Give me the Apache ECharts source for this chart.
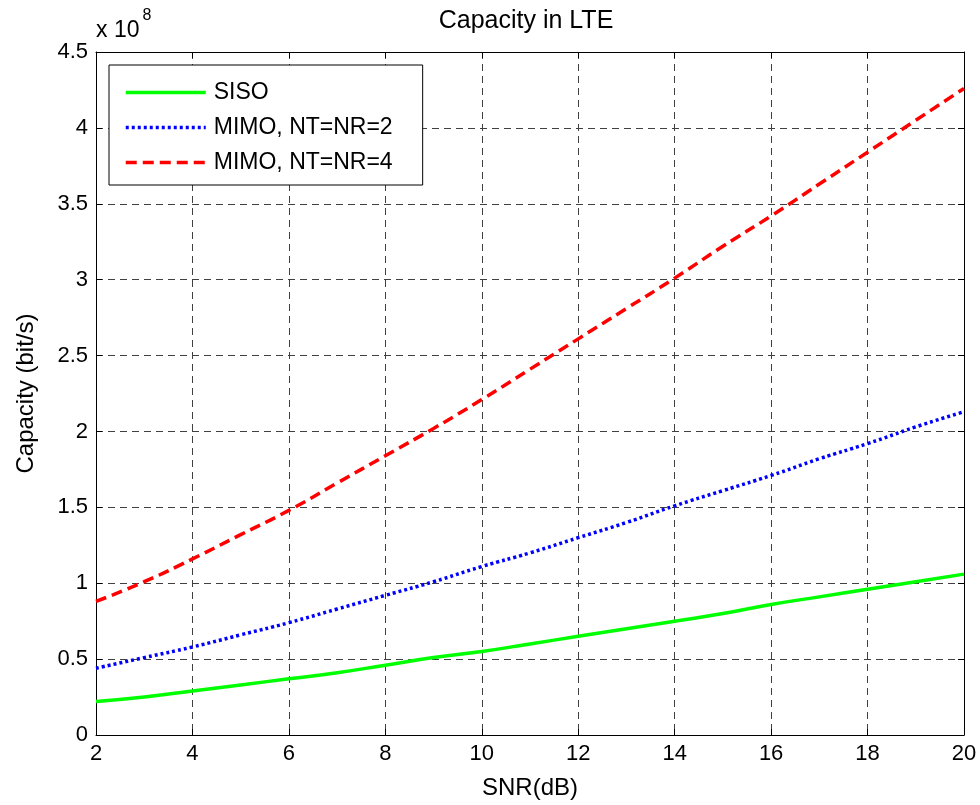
<!DOCTYPE html>
<html>
<head>
<meta charset="utf-8">
<title>Capacity in LTE</title>
<script src="https://cdn.jsdelivr.net/npm/echarts@6/dist/echarts.min.js"></script>
<style>
  html, body { margin: 0; padding: 0; background: #fff; }
  #chart { width: 980px; height: 805px; }
</style>
</head>
<body>
<div id="chart"></div>
<script>
// SNR in dB
const snrDb = [2, 3, 4, 5, 6, 7, 8, 9, 10, 11, 12, 13, 14, 15, 16, 17, 18, 19, 20];
// Capacity in units of 1e8 bit/s
const sisoCap = [0.22, 0.25, 0.29, 0.33, 0.37, 0.41, 0.46, 0.51, 0.55, 0.60, 0.65, 0.70, 0.75, 0.80, 0.86, 0.91, 0.96, 1.01, 1.06];
const mimo2Cap = [0.44, 0.51, 0.58, 0.66, 0.74, 0.83, 0.92, 1.01, 1.11, 1.20, 1.30, 1.40, 1.51, 1.61, 1.71, 1.82, 1.92, 2.03, 2.13];
const mimo4Cap = [0.88, 1.01, 1.16, 1.32, 1.48, 1.66, 1.84, 2.02, 2.21, 2.41, 2.61, 2.81, 3.01, 3.22, 3.42, 3.63, 3.84, 4.05, 4.26];
const yTicks = [0, 0.5, 1, 1.5, 2, 2.5, 3, 3.5, 4, 4.5];

const FONT = 'Liberation Sans, Arial, Helvetica, sans-serif';

const pairs = arr => snrDb.map((x, i) => [x, arr[i]]);

const gridLine = { show: true, lineStyle: { color: '#404040', width: 1, type: [7, 5] } };
const axisLine = { show: true, onZero: false, lineStyle: { color: '#000', width: 1 } };
const tick = { show: true, inside: true, length: 6, lineStyle: { color: '#000' } };

const chart = echarts.init(document.getElementById('chart'), null, { renderer: 'canvas' });

chart.setOption({
  backgroundColor: '#fff',
  animation: false,
  title: {
    text: 'Capacity in LTE',
    left: 521, top: 4, textAlign: 'center',
    textStyle: { fontFamily: FONT, fontSize: 25, fontWeight: 'normal', color: '#000' }
  },
  grid: { left: 96, top: 52, right: 16, bottom: 69, containLabel: false },
  legend: {
    orient: 'vertical',
    left: 109, top: 65,
    padding: [16, 30, 11, 15],
    itemGap: 12,
    itemWidth: 80,
    itemHeight: 20,
    borderColor: '#000', borderWidth: 1,
    backgroundColor: '#fff',
    z: 10,
    itemStyle: { opacity: 0 },
    lineStyle: { width: 3.5 },
    textStyle: { fontFamily: FONT, fontSize: 23, color: '#000', padding: [0, 0, 0, 3] },
    data: ['SISO', 'MIMO, NT=NR=2', 'MIMO, NT=NR=4']
  },
  xAxis: [{
    type: 'value', min: 2, max: 20, interval: 2,
    position: 'bottom',
    name: 'SNR(dB)', nameLocation: 'middle', nameGap: 41,
    nameTextStyle: { fontFamily: FONT, fontSize: 24, color: '#000' },
    axisLine, axisTick: tick,
    axisLabel: { fontFamily: FONT, fontSize: 22, color: '#000', margin: 8 },
    splitLine: gridLine
  }, {
    type: 'value', min: 2, max: 20, interval: 2,
    position: 'top',
    axisLine, axisTick: tick,
    axisLabel: { show: false }, splitLine: { show: false }
  }],
  yAxis: [{
    type: 'value', min: 0, max: 4.5, interval: 0.5,
    position: 'left',
    name: 'Capacity (bit/s)', nameLocation: 'middle', nameGap: 58, nameRotate: 90,
    nameTextStyle: { fontFamily: FONT, fontSize: 24, color: '#000' },
    axisLine, axisTick: tick,
    axisLabel: {
      fontFamily: FONT, fontSize: 22, color: '#000', margin: 8,
      formatter: v => yTicks.includes(v) ? String(v) : ''
    },
    splitLine: gridLine
  }, {
    type: 'value', min: 0, max: 4.5, interval: 0.5,
    position: 'right',
    axisLine, axisTick: tick,
    axisLabel: { show: false }, splitLine: { show: false }
  }],
  graphic: [{
    type: 'text', left: 96, top: 8, z: 20,
    style: {
      text: '{b|x 10}{s|8}',
      rich: {
        b: { fontFamily: FONT, fontSize: 23, fill: '#000', verticalAlign: 'bottom', lineHeight: 34 },
        s: { fontFamily: FONT, fontSize: 16, fill: '#000', verticalAlign: 'top', lineHeight: 34, padding: [0, 0, 17, 3] }
      }
    }
  }],
  series: [{
    name: 'SISO', type: 'line', smooth: true, showSymbol: false, symbol: 'none',
    data: pairs(sisoCap),
    lineStyle: { color: '#00ff00', width: 3.5, type: 'solid' },
    itemStyle: { color: '#00ff00' }
  }, {
    name: 'MIMO, NT=NR=2', type: 'line', smooth: true, showSymbol: false, symbol: 'none',
    data: pairs(mimo2Cap),
    lineStyle: { color: '#0000ff', width: 3.5, type: [3, 3] },
    itemStyle: { color: '#0000ff' }
  }, {
    name: 'MIMO, NT=NR=4', type: 'line', smooth: true, showSymbol: false, symbol: 'none',
    data: pairs(mimo4Cap),
    lineStyle: { color: '#ff0000', width: 3.5, type: [11, 6] },
    itemStyle: { color: '#ff0000' }
  }]
});
</script>
</body>
</html>
